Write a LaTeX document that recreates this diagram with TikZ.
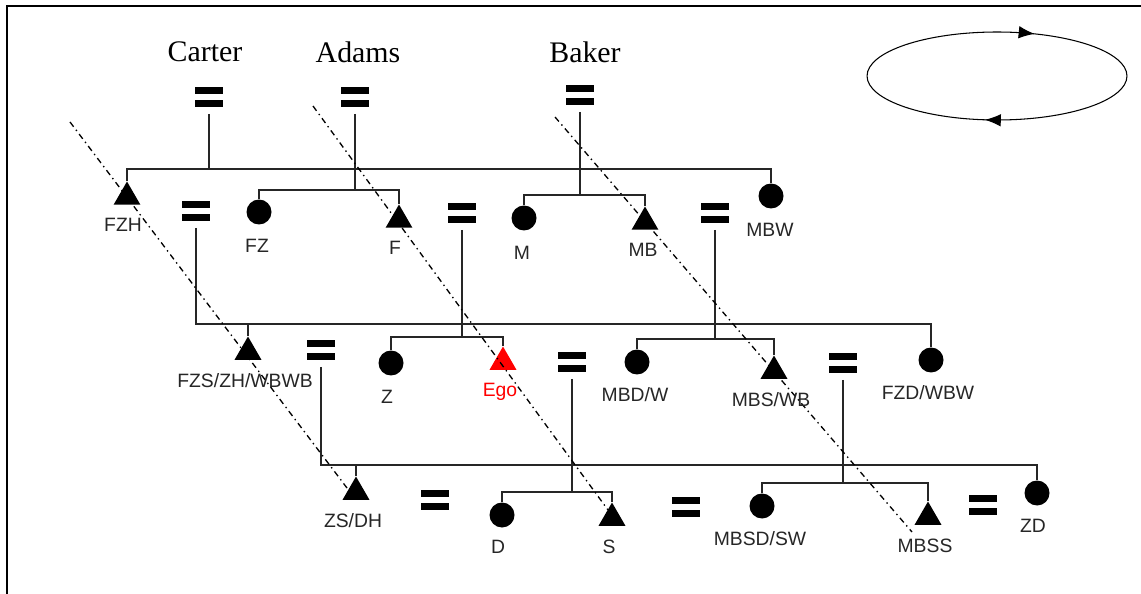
\documentclass[tikz,border=0pt]{standalone}
\usepackage{fontspec}
\setmainfont{Liberation Serif}
\setsansfont{Liberation Sans}
\usepackage{tikz}
\usetikzlibrary{shapes.geometric,arrows.meta,decorations.markings}

\tikzset{
	man/.style={regular polygon, regular polygon sides=3, fill=black, inner sep=0pt, minimum size=0.62cm},
	woman/.style={circle, fill=black, inner sep=0pt, minimum size=0.5cm},
	wed/.style={rectangle, inner sep=0pt, minimum width=0.56cm, minimum height=0.4cm, outer ysep=0.14cm,
		path picture={
			\fill (path picture bounding box.north west) rectangle ([yshift=-0.14cm]path picture bounding box.north east);
			\fill ([yshift=0.14cm]path picture bounding box.south west) rectangle (path picture bounding box.south east);}},
	kin/.style={font=\sffamily\fontsize{11}{13}\selectfont, text=black!85, inner sep=0pt},
	clan/.style={font=\fontsize{17}{20}\selectfont, inner sep=0pt},
	tie/.style={line width=0.75pt, black!85},
	sweep/.style={line width=0.75pt, dash pattern=on 3.4pt off 2.2pt on 0.8pt off 2.2pt},
}

\begin{document}
\begin{tikzpicture}[x=0.02cm, y=-0.02cm]
	\useasboundingbox (0,0) rectangle (1141,594);
	\draw[line width=0.9pt] (7,594) -- (7,6) -- (1141,6);

	% the three lines
	\node[clan] (Carter) at (205,52) {Carter};
	\node[clan] (Adams) at (358,52) {Adams};
	\node[clan] (Baker) at (585,52) {Baker};

	% men and women
	\foreach \n/\x/\y in {FZH/127/197, F/399/220, MB/645/222, FZS/248/352, MBS/774/371, ZS/356/492, S/612/518, MBSS/928/517}
		\node[man] (\n) at (\x,\y) {};
	\node[man, fill=red] (Ego) at (503,362) {};
	\foreach \n/\x/\y in {FZ/259/212, M/524/218, MBW/771/196, Z/391/363, MBD/637/362, FZD/931/360, D/502/515, MBSD/762/506, ZD/1037/493}
		\node[woman] (\n) at (\x,\y) {};

	% marriages
	\foreach \n/\x/\y in {wCarter/209/97, wAdams/355/97, wBaker/580/95, wFZH/196/211, wF/462/213, wMB/715/213,
		wFZS/321/350, wEgo/572/362, wMBS/843/363, wZS/435/500, wS/686/507, wMBSS/983/505}
		\node[wed] (\n) at (\x,\y) {};

	% descent lines
	\coordinate (r1) at (0,169);
	\coordinate (a1) at (0,190);
	\coordinate (k1) at (0,195);
	\draw[tie] (FZH.north) |- (r1 -| MBW.north) -- (MBW.north);
	\draw[tie] (wCarter.south) -- (wCarter.south |- r1);
	\draw[tie] (wAdams.south) -- (wAdams.south |- a1);
	\draw[tie] (FZ.north) |- (a1 -| F.north) -- (F.north);
	\draw[tie] (wBaker.south) -- (wBaker.south |- k1);
	\draw[tie] (M.north) |- (k1 -| MB.north) -- (MB.north);

	\coordinate (r2) at (0,324);
	\coordinate (a2) at (0,337);
	\coordinate (k2) at (0,339);
	\draw[tie] (wFZH.south) |- (r2 -| FZD.north) -- (FZD.north);
	\draw[tie] (FZS.north) -- (FZS.north |- r2);
	\draw[tie] (wF.south) -- (wF.south |- a2);
	\draw[tie] (Z.north) |- (a2 -| Ego.north) -- (Ego.north);
	\draw[tie] (wMB.south) -- (wMB.south |- k2);
	\draw[tie] (MBD.north) |- (k2 -| MBS.north) -- (MBS.north);

	\coordinate (r3) at (0,465);
	\coordinate (a3) at (0,492);
	\coordinate (k3) at (0,483);
	\draw[tie] (wFZS.south) |- (r3 -| ZD.north) -- (ZD.north);
	\draw[tie] (ZS.north) -- (ZS.north |- r3);
	\draw[tie] (wEgo.south) -- (wEgo.south |- a3);
	\draw[tie] (D.north) |- (a3 -| S.north) -- (S.north);
	\draw[tie] (wMBS.south) -- (wMBS.south |- k3);
	\draw[tie] (MBSD.north) |- (k3 -| MBSS.north) -- (MBSS.north);

	% generations cut
	\coordinate (c1a) at (70,122);
	\coordinate (c1b) at (347,488);
	\coordinate (c2a) at (313,106);
	\coordinate (c2b) at (608,510);
	\coordinate (c3a) at (555,117);
	\coordinate (c3b) at (912,532);
	\draw[sweep] (c1a) -- (c1b);
	\draw[sweep] (c2a) -- (c2b);
	\draw[sweep] (c3a) -- (c3b);

	% labels
	\node[kin] (tFZH) at (123,225) {FZH};
	\node[kin] (tFZ) at (257,246) {FZ};
	\node[kin] (tF) at (395,248) {F};
	\node[kin] (tM) at (522,253) {M};
	\node[kin] (tMB) at (643,250) {MB};
	\node[kin] (tMBW) at (770,230) {MBW};
	\node[kin] (tFZS) at (245,381) {FZS/ZH/WBWB};
	\node[kin] (tZ) at (387,397) {Z};
	\node[kin, text=red] (tEgo) at (500,392) {Ego};
	\node[kin] (tMBD) at (635,395) {MBD/W};
	\node[kin] (tMBS) at (771,400) {MBS/WB};
	\node[kin] (tFZD) at (928,393) {FZD/WBW};
	\node[kin] (tZS) at (353,521) {ZS/DH};
	\node[kin] (tD) at (498,547) {D};
	\node[kin] (tS) at (609,547) {S};
	\node[kin] (tMBSD) at (760,539) {MBSD/SW};
	\node[kin] (tMBSS) at (925,546) {MBSS};
	\node[kin] (tZD) at (1033,526) {ZD};

	% exchange cycle
	\draw[line width=0.6pt, postaction={decorate}, decoration={markings,
		mark=at position 0.185 with {\arrowreversed{Latex[length=0.32cm,width=0.25cm]}},
		mark=at position 0.729 with {\arrowreversed{Latex[length=0.32cm,width=0.25cm]}}}]
		(997,76) ellipse [x radius=2.6cm, y radius=0.88cm];
\end{tikzpicture}
\end{document}
